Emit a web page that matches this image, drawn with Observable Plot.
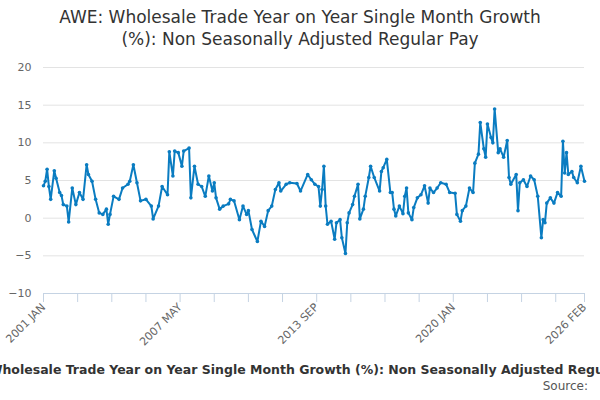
<!DOCTYPE html>
<html><head><meta charset="utf-8">
<script src="https://cdn.jsdelivr.net/npm/d3@7"></script>
<script src="https://cdn.jsdelivr.net/npm/@observablehq/plot@0.6"></script>
<style>
body{margin:0;width:600px;height:400px;overflow:hidden;font-family:"DejaVu Sans",sans-serif;background:#fff}
#title{height:52px;text-align:center;font-size:17px;color:#333;line-height:22px;padding-top:6px;box-sizing:border-box}
#cap{white-space:nowrap;text-align:center;font-weight:bold;font-size:12.5px;color:#333;margin-left:-300px;width:1200px;margin-top:10px}
#src{text-align:right;font-size:12px;color:#555;padding-right:12px;margin-top:2px}
</style></head><body>
<div id="title">AWE: Wholesale Trade Year on Year Single Month Growth<br>(%): Non Seasonally Adjusted Regular Pay</div>
<div id="chart"></div>
<div id="cap">AWE: Wholesale Trade Year on Year Single Month Growth (%): Non Seasonally Adjusted Regular Pay</div>
<div id="src">Source:</div>
<script>
const months = [0,1,2,3,4,6,7,9,10,11,13,14,16,18,20,22,24,25,27,29,31,33,35,36,37,39,42,44,47,48,50,52,54,57,60,61,64,66,69,70,72,73,75,77,78,81,82,84,86,88,90,92,94,95,96,98,
 100,103,104,106,109,111,113,114,116,119,121,123,125,127,129,131,132,135,137,141,143,147,149,151,153,154,155,156,157,158,160,162,163,165,166,168,169,170,172,173,175,176,178,179,181,182,184,187,188,189,191,193,194,
 195,196,198,200,201,202,203,205,206,208,210,212,214,215,217,219,221,224,226,229,230,232,233,235,237,239,240,242,243,245,246,247,249,250,251,253,254,256,258,259,260,263,264,265,267,269,271,273,275,277,278,279,280,282,284,286,288,289,290,291,292,294,295,297,299,301];
const values = [4.3,4.9,6.5,4.2,2.5,6.3,5.3,3.4,3.0,1.8,1.6,-0.5,4.0,1.8,3.4,2.5,7.1,5.8,4.9,2.5,0.7,0.5,1.2,-0.8,0.5,2.9,2.5,4.0,4.5,4.9,7.1,4.7,2.3,2.5,1.6,-0.1,1.6,4.2,3.1,8.8,5.6,8.9,8.7,6.9,8.9,9.3,2.7,6.9,4.5,4.2,2.9,5.6,3.6,4.7,2.7,1.2,
 1.6,1.9,2.5,2.3,-0.2,1.6,0.5,1.0,-1.5,-3.1,-0.4,-1.1,1.0,1.6,3.8,4.7,3.6,4.5,4.7,4.6,3.6,5.8,5.1,4.5,4.2,1.6,3.8,6.9,1.6,-0.8,-0.4,-2.8,-0.6,-0.2,-2.6,-4.7,-0.6,0.7,1.8,2.9,4.5,-0.1,1.2,2.9,5.4,6.9,5.4,3.6,6.2,6.7,7.8,3.4,3.4,
 1.2,0.3,1.6,0.6,2.9,4.0,0.7,-0.2,1.4,2.7,3.1,4.3,2.0,4.0,3.4,4.0,4.7,4.5,3.4,3.3,0.5,-0.4,1.0,1.6,4.0,3.4,7.3,8.5,12.7,9.2,8.1,12.5,10.7,10.0,14.5,8.7,9.2,8.1,10.3,5.4,4.5,5.8,1.0,4.7,5.1,4.2,5.6,5.1,2.9,-2.6,-0.2,-0.6,2.0,2.7,2.0,3.4,2.9,10.2,6.0,8.7,5.8,6.2,5.4,4.7,6.9,4.9];
const tickLabels = {0:"2001 JAN",76:"2007 MAY",152:"2013 SEP",228:"2020 JAN",301:"2026 FEB"};
const xTicks = [...d3.range(0,300,19),301];
const data = months.map((m,i)=>({m, v:values[i]}));
const col = "#0a7cc1";
const plot = Plot.plot({
  width:600,height:300,marginLeft:43,marginRight:16,marginTop:15,marginBottom:59,
  style:{fontFamily:"DejaVu Sans, sans-serif",fontSize:"11px",color:"#666"},
  x:{domain:[0,301],ticks:xTicks,tickFormat:d=>tickLabels[d]||"",tickRotate:-45,label:null,tickSize:0},
  y:{domain:[-10,20],ticks:[-10,-5,0,5,10,15,20],grid:false,label:null,tickSize:0,tickPadding:12},
  marks:[
    Plot.ruleY([-5,0,5,10,15,20],{stroke:"#e3e3e3"}),
    Plot.ruleY([-10],{stroke:"#c5d3e3"}),
    Plot.ruleX(xTicks,{x:d=>d,y1:-10,y2:-11.2,stroke:"#c5d3e3",clip:false}),
    Plot.line(data,{x:"m",y:"v",stroke:col,strokeWidth:2}),
    Plot.dot(data,{x:"m",y:"v",fill:col,r:1.8})
  ]
});
document.getElementById("chart").appendChild(plot);
</script></body></html>
